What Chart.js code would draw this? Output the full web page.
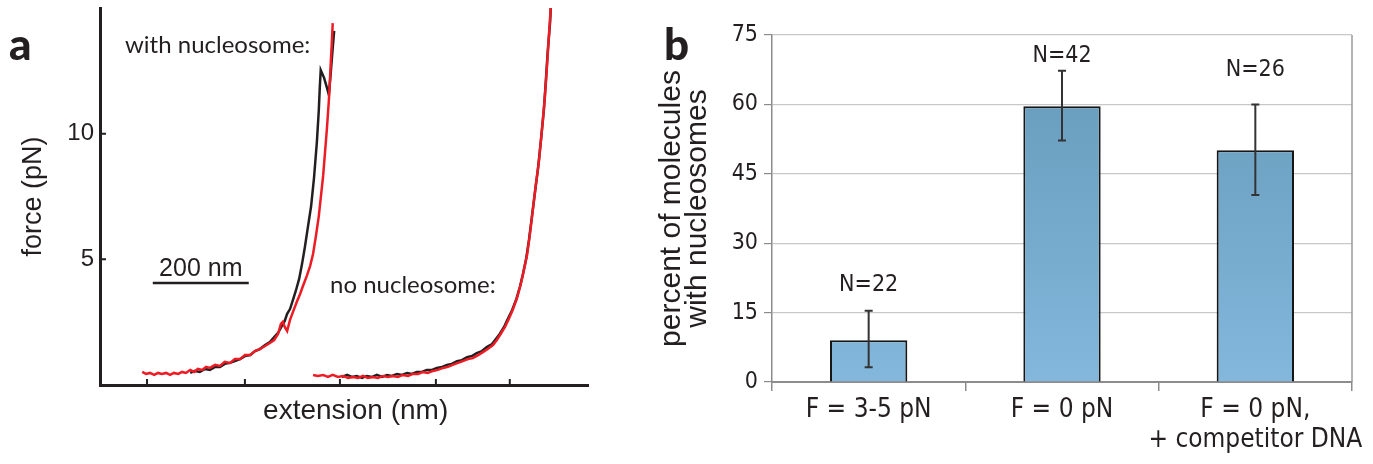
<!DOCTYPE html>
<html>
<head>
<meta charset="utf-8">
<script src="https://cdn.jsdelivr.net/npm/chart.js@4.4.1/dist/chart.umd.min.js"></script>
<style>
  html, body { margin: 0; padding: 0; background: #fff; }
  #wrap { position: relative; width: 1373px; height: 464px; overflow: hidden; }
  .panel { position: absolute; top: 0; height: 464px; }
  #panelA { left: 0; width: 640px; }
  #panelB { left: 640px; width: 733px; }
  .lbl { position: absolute; white-space: nowrap; color: #231f20; line-height: 1; }
  .letter { font-family: Lato, "DejaVu Sans", sans-serif; font-weight: 900; font-size: 44px; }
  .note { font-family: Lato, "Open Sans", sans-serif; font-size: 24px; }
</style>
</head>
<body>
<div id="wrap">
  <div class="panel" id="panelA"><canvas id="forceChart" width="640" height="464"></canvas></div>
  <div class="panel" id="panelB"><canvas id="barChart" width="733" height="464"></canvas></div>
  <div class="lbl letter" style="left:9px; top:21px;">a</div>
  <div class="lbl letter" style="left:664px; top:21px;">b</div>
  <div class="lbl note" style="left:125px; top:32px;">with nucleosome:</div>
  <div class="lbl note" style="left:330px; top:272px;">no nucleosome:</div>
</div>

<script>
// ---- panel a: force-extension traces (extension in nm, force in pN) ----
const withNucBlackX = [188, 198, 208, 219, 229, 240, 250, 260, 271, 281, 292, 302, 313, 323, 333, 344, 354, 363, 371, 379, 385, 390, 396, 402, 408, 415, 421, 427, 433, 440, 446, 452, 456, 458, 460, 467, 473, 477, 481, 485, 488];
const withNucBlackF = [0.48, 0.56, 0.52, 0.64, 0.60, 0.72, 0.72, 0.84, 0.88, 0.95, 1.03, 1.15, 1.19, 1.35, 1.43, 1.59, 1.71, 1.91, 2.07, 2.35, 2.55, 2.83, 3.02, 3.38, 3.74, 4.22, 4.81, 5.49, 6.25, 7.12, 8.24, 9.67, 10.94, 11.82, 12.53, 12.22, 11.82, 11.54, 12.45, 13.41, 14.09];

const withNucRedX = [88, 96, 104, 113, 121, 129, 138, 146, 154, 163, 171, 179, 188, 196, 204, 213, 221, 229, 240, 250, 260, 271, 281, 292, 302, 313, 323, 333, 344, 354, 363, 371, 377, 381, 385, 390, 396, 402, 410, 417, 423, 431, 438, 444, 450, 456, 460, 465, 469, 473, 477, 479, 481, 483, 485];
const withNucRedF = [0.52, 0.44, 0.48, 0.40, 0.48, 0.44, 0.48, 0.40, 0.48, 0.44, 0.52, 0.48, 0.60, 0.52, 0.64, 0.60, 0.72, 0.68, 0.80, 0.76, 0.92, 0.88, 1.03, 1.03, 1.19, 1.19, 1.35, 1.43, 1.55, 1.67, 1.79, 2.03, 2.43, 2.51, 2.31, 2.15, 2.59, 2.90, 3.30, 3.62, 3.94, 4.34, 4.74, 5.21, 5.93, 6.72, 7.44, 8.32, 9.27, 10.23, 11.34, 12.06, 12.85, 13.57, 14.40];

const noNucBlackX = [504, 515, 525, 535, 546, 556, 567, 577, 588, 598, 608, 619, 629, 640, 650, 660, 671, 681, 692, 702, 713, 723, 733, 744, 754, 765, 775, 785, 796, 806, 817, 825, 833, 842, 850, 858, 867, 875, 881, 888, 894, 900, 906, 913, 919, 925, 929, 933, 938, 940];
const noNucBlackF = [0.32, 0.40, 0.32, 0.36, 0.28, 0.36, 0.32, 0.40, 0.32, 0.40, 0.36, 0.44, 0.40, 0.48, 0.44, 0.52, 0.52, 0.60, 0.60, 0.68, 0.72, 0.80, 0.84, 0.95, 0.99, 1.11, 1.15, 1.27, 1.35, 1.51, 1.63, 1.83, 2.03, 2.31, 2.63, 2.94, 3.38, 3.90, 4.38, 5.01, 5.77, 6.68, 7.60, 8.64, 9.75, 10.94, 12.06, 13.25, 14.44, 15.2];

const noNucRedX = [444, 454, 465, 475, 485, 496, 506, 517, 527, 538, 548, 558, 569, 579, 590, 600, 610, 621, 631, 642, 652, 663, 673, 683, 694, 704, 715, 725, 735, 746, 756, 767, 777, 788, 798, 808, 819, 827, 835, 844, 852, 860, 869, 877, 883, 890, 896, 902, 908, 915, 921, 927, 931, 935, 940];
const noNucRedF = [0.40, 0.36, 0.40, 0.32, 0.40, 0.32, 0.36, 0.28, 0.32, 0.28, 0.36, 0.28, 0.32, 0.28, 0.36, 0.32, 0.36, 0.32, 0.40, 0.36, 0.44, 0.44, 0.52, 0.48, 0.56, 0.60, 0.68, 0.72, 0.80, 0.88, 0.95, 1.03, 1.07, 1.19, 1.31, 1.43, 1.59, 1.79, 2.03, 2.31, 2.63, 2.98, 3.46, 4.02, 4.54, 5.17, 6.01, 6.96, 7.92, 8.95, 10.15, 11.42, 12.53, 13.73, 15.2];

const forceTicks = [5, 10];
const extensionTicks = [98, 302, 500, 700, 854];
const scaleBarNm = 200;

// ---- panel b: nucleosome formation ----
const conditions = [['F = 3-5 pN'], ['F = 0 pN'], ['F = 0 pN,', '+ competitor DNA']];
const percentWithNuc = [9.0, 59.6, 50.1];
const errLow = [3.2, 52.2, 40.4];
const errHigh = [15.4, 67.3, 60.0];
const sampleSizes = ['N=22', 'N=42', 'N=26'];

const INK = '#231f20';
const NARROW = '"Liberation Sans Narrow", "DejaVu Sans Condensed", Roboto, sans-serif';
const HELV = '"Liberation Sans", Arial, sans-serif';

function zip(xs, ys) {
    return xs.map((x, i) => ({ x: x, y: ys[i] }));
}

function trace(xs, ys, color) {
    return {
        data: zip(xs, ys),
        showLine: true,
        borderColor: color,
        borderWidth: 2.5,
        pointRadius: 0,
        tension: 0
    };
}

// inward tick marks + 200 nm scale bar
const forceMarks = {
    id: 'forceMarks',
    afterDraw(chart) {
        const { ctx, chartArea, scales } = chart;
        const x = scales.x, y = scales.y;
        ctx.save();
        ctx.strokeStyle = INK;
        ctx.lineWidth = 2;
        ctx.beginPath();
        x.ticks.forEach(t => {
            const px = x.getPixelForValue(t.value);
            ctx.moveTo(px, chartArea.bottom);
            ctx.lineTo(px, chartArea.bottom - 6);
        });
        y.ticks.forEach(t => {
            const py = y.getPixelForValue(t.value);
            ctx.moveTo(chartArea.left, py);
            ctx.lineTo(chartArea.left + 6, py);
        });
        ctx.stroke();

        const x0 = x.getPixelForValue(110);
        const x1 = x.getPixelForValue(110 + scaleBarNm);
        const yb = y.getPixelForValue(4.06);
        ctx.lineWidth = 2.5;
        ctx.beginPath();
        ctx.moveTo(x0, yb);
        ctx.lineTo(x1, yb);
        ctx.stroke();
        ctx.fillStyle = INK;
        ctx.font = '25px ' + HELV;
        ctx.textAlign = 'center';
        ctx.textBaseline = 'alphabetic';
        ctx.fillText(scaleBarNm + ' nm', (x0 + x1) / 2, yb - 7);
        ctx.restore();
    }
};

// error bars, N labels and the right frame line
const barExtras = {
    id: 'barExtras',
    afterDatasetsDraw(chart) {
        const { ctx, chartArea, scales } = chart;
        const y = scales.y;
        const meta = chart.getDatasetMeta(0);
        const labelAt = [21, 70.5, 67.5];
        ctx.save();
        ctx.strokeStyle = '#9a9a9a';
        ctx.lineWidth = 1.5;
        ctx.beginPath();
        ctx.moveTo(chartArea.right, chartArea.top);
        ctx.lineTo(chartArea.right, chartArea.bottom);
        ctx.stroke();

        ctx.strokeStyle = '#333';
        ctx.lineWidth = 2;
        ctx.fillStyle = INK;
        ctx.font = '23px ' + NARROW;
        ctx.textAlign = 'center';
        ctx.textBaseline = 'middle';
        meta.data.forEach((bar, i) => {
            const cx = bar.x;
            const top = y.getPixelForValue(errHigh[i]);
            const bot = y.getPixelForValue(errLow[i]);
            ctx.beginPath();
            ctx.moveTo(cx, top); ctx.lineTo(cx, bot);
            ctx.moveTo(cx - 4, top); ctx.lineTo(cx + 4, top);
            ctx.moveTo(cx - 4, bot); ctx.lineTo(cx + 4, bot);
            ctx.stroke();
            ctx.fillText(sampleSizes[i], cx, y.getPixelForValue(labelAt[i]));
        });
        ctx.restore();
    }
};

function initForceChart() {
    const ctx = document.getElementById('forceChart').getContext('2d');
    new Chart(ctx, {
        type: 'scatter',
        data: {
            datasets: [
                trace(withNucRedX, withNucRedF, '#ed1c24'),
                trace(noNucRedX, noNucRedF, '#ed1c24'),
                trace(withNucBlackX, withNucBlackF, INK),
                trace(noNucBlackX, noNucBlackF, INK)
            ]
        },
        options: {
            responsive: false,
            animation: false,
            events: [],
            layout: { padding: { left: 0, top: 8, right: 52, bottom: 0 } },
            plugins: { legend: { display: false }, tooltip: { enabled: false } },
            scales: {
                x: {
                    type: 'linear',
                    min: 0,
                    max: 1017,
                    afterBuildTicks: s => { s.ticks = extensionTicks.map(v => ({ value: v })); },
                    afterFit: s => { s.height = 79; s.paddingLeft = 0; s.paddingRight = 0; },
                    grid: { display: false, drawTicks: false },
                    border: { display: true, color: INK, width: 3 },
                    ticks: { display: false },
                    title: {
                        display: true,
                        text: '   extension (nm)',
                        color: INK,
                        font: { family: HELV, size: 28 },
                        padding: { top: 0, bottom: 36 }
                    }
                },
                y: {
                    min: 0,
                    max: 15,
                    afterBuildTicks: s => { s.ticks = forceTicks.map(v => ({ value: v })); },
                    afterFit: s => { s.width = 100; s.paddingTop = 0; s.paddingBottom = 0; },
                    grid: { display: false, drawTicks: false },
                    border: { display: true, color: INK, width: 3 },
                    ticks: { color: INK, padding: 6, font: { family: HELV, size: 24 } },
                    title: {
                        display: true,
                        text: 'force (pN)',
                        color: INK,
                        font: { family: HELV, size: 27 },
                        padding: { top: 17, bottom: 0 }
                    }
                }
            }
        },
        plugins: [forceMarks]
    });
}

function initBarChart() {
    const ctx = document.getElementById('barChart').getContext('2d');
    new Chart(ctx, {
        type: 'bar',
        data: {
            labels: conditions,
            datasets: [{
                data: percentWithNuc,
                backgroundColor: c => {
                    const area = c.chart.chartArea;
                    if (!area) return '#78acd0';
                    const g = c.chart.ctx.createLinearGradient(0, area.top, 0, area.bottom);
                    g.addColorStop(0, '#6495b5');
                    g.addColorStop(0.2, '#6a9fbf');
                    g.addColorStop(1, '#83b7dc');
                    return g;
                },
                borderColor: '#161616',
                borderWidth: 2,
                barPercentage: 1,
                categoryPercentage: 0.4
            }]
        },
        options: {
            responsive: false,
            animation: false,
            events: [],
            layout: { padding: { left: 0, top: 35, right: 21, bottom: 0 } },
            plugins: { legend: { display: false }, tooltip: { enabled: false } },
            scales: {
                x: {
                    afterFit: s => { s.height = 82; s.paddingLeft = 0; s.paddingRight = 0; },
                    grid: { display: true, drawOnChartArea: false, offset: true, tickLength: 9, color: '#8c8c8c', lineWidth: 1.5 },
                    border: { display: true, color: '#8c8c8c', width: 2 },
                    ticks: {
                        color: INK,
                        padding: 4,
                        autoSkip: false,
                        maxRotation: 0,
                        minRotation: 0,
                        font: { family: NARROW, size: 26, lineHeight: 1.17 }
                    }
                },
                y: {
                    min: 0,
                    max: 75,
                    afterFit: s => { s.width = 132; s.paddingTop = 0; s.paddingBottom = 0; },
                    grid: { color: '#c8c8c8', lineWidth: 1.2, tickLength: 8, tickColor: '#8c8c8c' },
                    border: { display: true, color: '#8c8c8c', width: 1.5 },
                    ticks: { stepSize: 15, color: INK, padding: 6, font: { family: NARROW, size: 23 } },
                    title: {
                        display: true,
                        text: ['percent of molecules', 'with nucleosomes'],
                        color: INK,
                        font: { family: HELV, size: 30, lineHeight: 0.86 },
                        padding: { top: 19, bottom: 0 }
                    }
                }
            }
        },
        plugins: [barExtras]
    });
}

window.onload = function() {
    initForceChart();
    initBarChart();
};
</script>
</body>
</html>
